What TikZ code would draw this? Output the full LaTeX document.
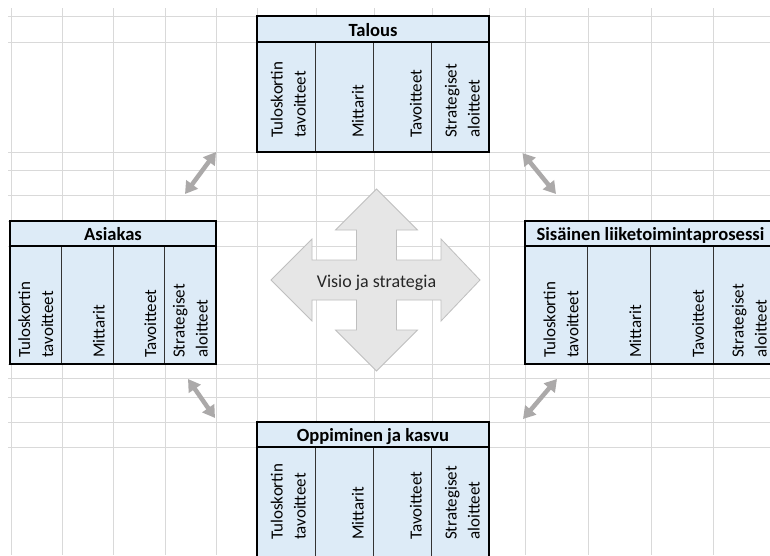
\documentclass[tikz,border=0pt]{standalone}
\usepackage{fontspec}
\setmainfont{Carlito}
\usetikzlibrary{arrows.meta,calc}

\definecolor{cellblue}{HTML}{DDEBF7}
\definecolor{gridgray}{HTML}{D9D9D9}
\definecolor{linkgray}{HTML}{ABA9A9}
\definecolor{crossfill}{HTML}{E6E6E6}
\definecolor{crossedge}{HTML}{BFBFBF}

% One scorecard block: header cell plus four rotated-label columns.
% #1 name, #2 left, #3 top, #4 column width, #5 header height,
% #6 body height, #7 title, #8 label offset from bottom, #9 label offset from right
\newcommand\scorecard[9]{%
  \node[hdrbox,minimum width={4*#4},minimum height=#5,anchor=north west] (#1-h) at (#2,#3) {};
  \node[headtext] (#1-title) at ($(#1-h.south)+(0,-6)$) {#7};
  \foreach \ci/\lab in {1/{Tuloskortin\\tavoitteet},2/{Mittarit},3/{Tavoitteet},4/{Strategiset\\aloitteet}} {
    \node[cellbox,minimum width=#4,minimum height=#6,anchor=north west] (#1-c\ci) at ($(#1-h.south west)+({(\ci-1)*#4},0)$) {};
    \node[lbl] (#1-t\ci) at ($(#1-c\ci.south east)+(-#9,-#8)$) {\lab};
  }
  \draw[outerframe] (#1-h.north west) rectangle (#1-c4.south east);
  \draw[outerframe] (#1-h.south west) -- (#1-c4.north east);
}

\begin{document}
\begin{tikzpicture}[x=1pt,y=-1pt,
  gridline/.style={draw=gridgray,line width=1pt},
  hdrbox/.style={rectangle,draw=black,line width=1.6pt,fill=cellblue,inner sep=0pt,outer sep=0pt},
  cellbox/.style={rectangle,draw=black!80,line width=0.9pt,fill=cellblue,inner sep=0pt,outer sep=0pt},
  outerframe/.style={draw=black,line width=1.8pt},
  headtext/.style={font=\bfseries\fontsize{18.6}{22}\selectfont,inner sep=0pt,anchor=base},
  lbl/.style={font=\fontsize{17}{23}\selectfont,rotate=90,align=left,inner sep=0pt,anchor=south west},
  linkarrow/.style={draw=linkgray,line width=4.5pt,arrows={Triangle[width=14pt,length=12pt]-Triangle[width=14pt,length=12pt]}},
  crossshape/.style={fill=crossfill,draw=crossedge,line width=0.8pt,line join=miter},
  visiontext/.style={font=\fontsize{18}{22}\selectfont,text=black!85,inner sep=0pt,anchor=base}
]
\useasboundingbox (0,0) rectangle (770,555);
\clip (0,0) rectangle (770,555);
\fill[white] (0,0) rectangle (770,555);

% spreadsheet grid
\foreach \gx in {11,62,113,165,216,257,316,374,432,489,525,588,651,713}
  \draw[gridline] (\gx,8) -- (\gx,555);
\foreach \gy in {16,42,152,170,195,221,246,364,378,397,422,447}
  \draw[gridline] (8,\gy) -- (770,\gy);

% the four perspectives
\scorecard{fin}{257}{16}{58}{26}{110}{Talous}{14}{9}
\scorecard{cust}{10}{221}{51.5}{25}{118}{Asiakas}{6}{8}
\scorecard{proc}{525}{221}{62.75}{25}{118}{Sisäinen liiketoimintaprosessi}{6}{9}
\scorecard{learn}{257}{422}{58}{25}{120}{Oppiminen ja kasvu}{27}{9}

% central four-way arrow
\path[crossshape] (376.5,189) -- (417.5,230) -- (396.5,230) -- (396.5,260) -- (441,260)
  -- (441,239) -- (480,280) -- (441,321) -- (441,300) -- (396.5,300) -- (396.5,330)
  -- (417.5,330) -- (376.5,371) -- (335.5,330) -- (356.5,330) -- (356.5,300) -- (312,300)
  -- (312,321) -- (271,280) -- (312,239) -- (312,260) -- (356.5,260) -- (356.5,230)
  -- (335.5,230) -- cycle;
\node[visiontext] (vision) at (376.5,287) {Visio ja strategia};

% double-headed links between the blocks
\coordinate (tlA) at (216,152);
\coordinate (tlB) at (185,194);
\coordinate (trA) at (522.5,153);
\coordinate (trB) at (556,194);
\coordinate (blA) at (188,379);
\coordinate (blB) at (215,418);
\coordinate (brA) at (557,379);
\coordinate (brB) at (523,419);
\draw[linkarrow] (tlA) -- (tlB);
\draw[linkarrow] (trA) -- (trB);
\draw[linkarrow] (blA) -- (blB);
\draw[linkarrow] (brA) -- (brB);
\end{tikzpicture}
\end{document}
